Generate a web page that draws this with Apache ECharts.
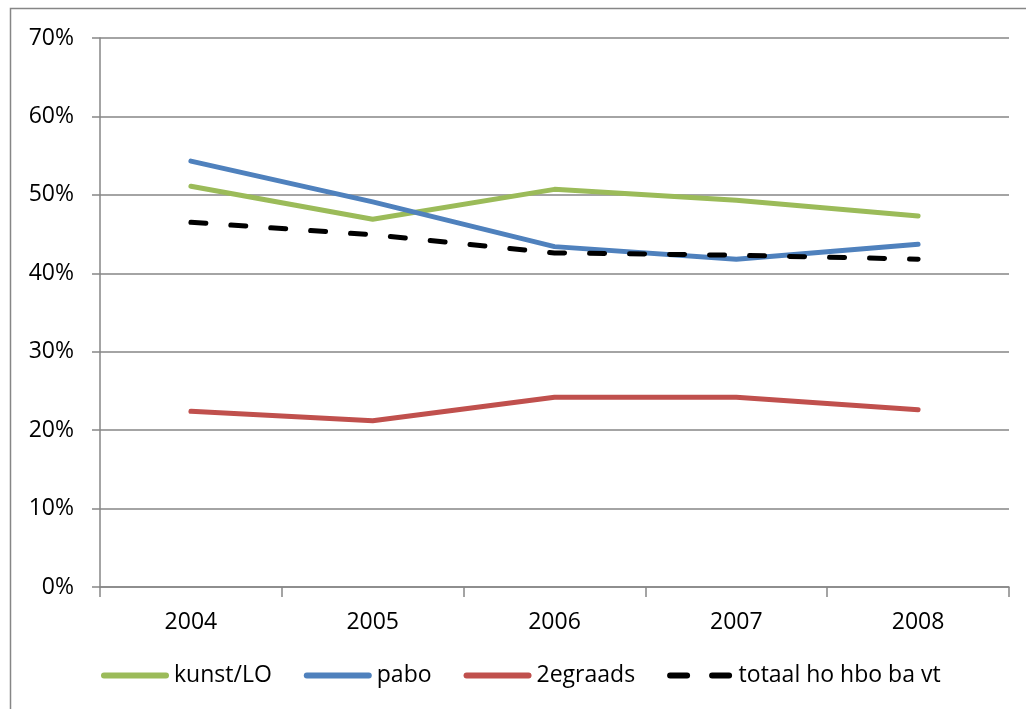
<!DOCTYPE html>
<html>
<head>
    <meta charset="UTF-8"/>
    <title>Lijndiagram</title>
    <script src="https://cdn.jsdelivr.net/npm/echarts@6/dist/echarts.min.js"></script>
    <style>
        html, body { margin: 0; padding: 0; background: #fff; }
        #charts { width: 1026px; height: 709px; }
    </style>
</head>
<body>
<div id="charts"></div>
<script>
    // categorieën en waarden (in %)
    var jaren = ['2004', '2005', '2006', '2007', '2008'];
    var kunstLO = [51.1, 46.9, 50.7, 49.3, 47.3];
    var pabo = [54.3, 49.1, 43.4, 41.8, 43.7];
    var tweedegraads = [22.4, 21.2, 24.2, 24.2, 22.6];
    var totaal = [46.5, 44.9, 42.6, 42.3, 41.8];
    var yTicks = [0, 10, 20, 30, 40, 50, 60, 70];

    var myChart = echarts.init(document.getElementById('charts'));
    var font = '"Open Sans", sans-serif';
    var grijs = '#868686';

    // legenda-iconen: volle balk en twee streepjes
    var balk = 'path://M3,0h62a3,3 0 0 1 0,6h-62a3,3 0 0 1 0,-6z';
    var streep = 'path://M3,0h17a3,3 0 0 1 0,6h-17a3,3 0 0 1 0,-6z M45,0h17a3,3 0 0 1 0,6h-17a3,3 0 0 1 0,-6z';

    function lijn(naam, data, kleur, dashed) {
        return {
            name: naam,
            type: 'line',
            symbol: 'none',
            data: data,
            lineStyle: {
                color: kleur,
                width: 5,
                type: dashed ? [15, 25] : 'solid',
                cap: 'round',
                join: 'round'
            },
            itemStyle: {color: kleur}
        };
    }

    var option = {
        animation: false,
        textStyle: {fontFamily: font},
        graphic: [{
            type: 'polyline',
            shape: {points: [[10.5, 709], [10.5, 8.5], [1026, 8.5]]},
            style: {stroke: grijs, lineWidth: 1.5, fill: null}
        }],
        grid: {left: 100, top: 38, right: 17, bottom: 122},
        legend: {
            bottom: 17,
            left: 96,
            itemWidth: 68,
            itemHeight: 6,
            itemGap: 32,
            textStyle: {fontFamily: font, fontSize: 23, color: '#000'},
            data: [
                {name: 'kunst/LO', icon: balk},
                {name: 'pabo', icon: balk},
                {name: '2egraads', icon: balk},
                {name: 'totaal ho hbo ba vt', icon: streep}
            ]
        },
        xAxis: {
            type: 'category',
            data: jaren,
            boundaryGap: true,
            axisLine: {lineStyle: {color: grijs, width: 1.5}},
            axisTick: {show: true, length: 10, lineStyle: {color: grijs, width: 1.5}},
            axisLabel: {color: '#000', fontSize: 23, fontFamily: font, margin: 24}
        },
        yAxis: {
            type: 'value',
            min: yTicks[0],
            max: yTicks[yTicks.length - 1],
            interval: 10,
            axisLine: {show: true, lineStyle: {color: grijs, width: 1.5}},
            axisTick: {show: true, length: 8, lineStyle: {color: grijs, width: 1.5}},
            splitLine: {lineStyle: {color: grijs, width: 1.5}},
            axisLabel: {
                color: '#000', fontSize: 23, fontFamily: font, margin: 26,
                formatter: function (v) { return v + '%'; }
            }
        },
        series: [
            lijn('kunst/LO', kunstLO, '#9BBB59', false),
            lijn('pabo', pabo, '#4F81BD', false),
            lijn('2egraads', tweedegraads, '#C0504D', false),
            lijn('totaal ho hbo ba vt', totaal, '#000000', true)
        ]
    };
    myChart.setOption(option);
</script>
</body>
</html>
